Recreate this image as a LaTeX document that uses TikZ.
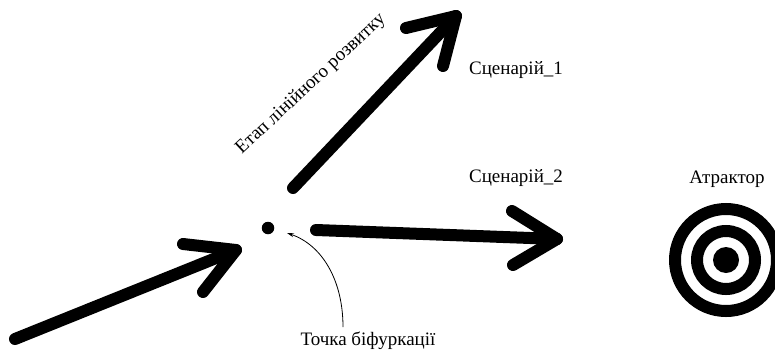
\documentclass[tikz,border=0pt]{standalone}
\usepackage{fontspec}
\setmainfont{Liberation Serif}
\usetikzlibrary{arrows.meta}
\begin{document}
\begin{tikzpicture}[x=1pt,y=-1pt,
  big/.style={line width=12pt, line cap=round, line join=round},
  lbl/.style={font=\fontsize{19}{22}\selectfont, inner sep=0pt},
  ring/.style={draw, line width=12pt}]
\useasboundingbox (0,0) rectangle (775,351);
\clip (0,0) rectangle (775,351);
% coordinates
\coordinate (a1s) at (15,339);
\coordinate (a1t) at (236,250);
\coordinate (a1u) at (183,244);
\coordinate (a1d) at (203,292);
\coordinate (a2s) at (293,188);
\coordinate (a2t) at (456,16);
\coordinate (a2u) at (406,28);
\coordinate (a2d) at (443,66);
\coordinate (a3s) at (316,230);
\coordinate (a3t) at (557,239);
\coordinate (a3u) at (512,211);
\coordinate (a3d) at (513,265);
% arrows
\draw[big] (a1s) -- (a1t);
\draw[big] (a1u) -- (a1t) -- (a1d);
\draw[big] (a2s) -- (a2t);
\draw[big] (a2u) -- (a2t) -- (a2d);
\draw[big] (a3s) -- (a3t);
\draw[big] (a3u) -- (a3t) -- (a3d);
% bifurcation point
\node[circle, fill, inner sep=0pt, minimum size=12.5pt] (bp) at (268,228) {};
\coordinate (bpt) at (287,233);
% labels
\node[lbl, anchor=base] (tb) at (368,345) {Точка біфуркації};
\node[lbl, anchor=base] (s1) at (516,74) {Сценарій\_1};
\node[lbl, anchor=base] (s2) at (516,182) {Сценарій\_2};
\node[lbl, anchor=base] (at) at (727,183) {Атрактор};
\node[lbl, rotate=43] (et) at (311,84) {Етап лінійного розвитку};
% small arrow
\draw[line width=0.8pt, -{Stealth[length=7pt,width=4pt]}] (343,327) .. controls (343,280) and (322,245) .. (bpt);
% attractor
\node[circle, fill, inner sep=0pt, minimum size=26pt] (core) at (726,260) {};
\draw[ring] (core.center) circle[radius=29];
\draw[ring] (core.center) circle[radius=51];
\end{tikzpicture}
\end{document}
